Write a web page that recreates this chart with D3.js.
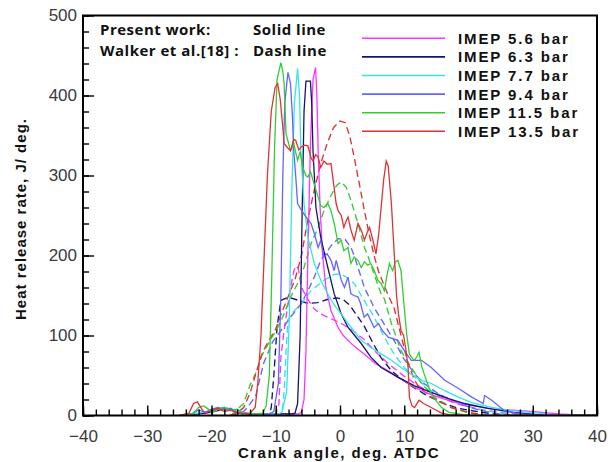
<!DOCTYPE html>
<html>
<head>
<meta charset="utf-8">
<script src="https://cdn.jsdelivr.net/npm/d3@7/dist/d3.min.js"></script>
<style>
  html, body { margin: 0; padding: 0; background: #fff; }
  svg { display: block; }
</style>
</head>
<body>
<svg id="chart" width="615" height="462"></svg>
<script>
// ---------------- DATA ----------------
const seriesLabels = ["IMEP 5.6 bar", "IMEP 6.3 bar", "IMEP 7.7 bar", "IMEP 9.4 bar", "IMEP 11.5 bar", "IMEP 13.5 bar"];
const seriesColors = ["#ff33ff", "#14146e", "#33e6e6", "#6464ff", "#33cc33", "#dd3333"];

const xTickValues = [-40, -30, -20, -10, 0, 10, 20, 30, 40];
const yTickValues = [0, 100, 200, 300, 400, 500];

const noteLines = [["Present work:", "Solid line"], ["Walker et al.[18] :", "Dash line"]];
const xTitle = "Crank angle, deg. ATDC";
const yTitle = "Heat release rate, J/ deg.";

// Present work (solid lines): [crank angle, heat release rate]
const present56 = [[-25,0],[-20,4],[-19,8],[-18,10],[-17,8],[-16,5],[-14,2],[-6.5,2],[-6,4],[-5.6,20],[-5.3,80],[-5,200],[-4.6,340],[-4.2,420],[-3.8,435],[-3.6,400],[-3.4,331],[-3.1,260],[-2.7,200],[-2.2,160],[-1.4,131],[-0.3,110],[0.5,100],[2,88],[3.75,77],[5.5,65],[7.5,56],[9,48],[11.6,35],[14.2,26],[16.9,19],[20,13],[24,8],[29.8,5],[34,2],[38,0.5],[40,0]];
const present63 = [[-25,0],[-21,3],[-19,6],[-18,9],[-17,7],[-16,4],[-14,2],[-7.5,2],[-7,3],[-6.6,15],[-6.2,100],[-5.9,250],[-5.6,380],[-5.3,418],[-4.6,418],[-4.4,390],[-4.2,331],[-4,300],[-3.75,260],[-3,223],[-1.9,185],[-0.9,152],[0.2,127],[1.25,110],[2.8,95],[3.3,90],[4.8,73],[6.4,60],[9,48],[11.6,37],[14.2,29],[16.9,21],[19.4,15],[23,9],[27,4],[32,0],[40,0]];
const present77 = [[-25,0],[-22,3],[-20,6],[-19,9],[-18,10],[-17,8],[-16,5],[-14,2],[-9.5,2],[-9,5],[-8.3,30],[-7.9,120],[-7.5,280],[-7.1,390],[-6.6,434],[-6.3,400],[-6.1,331],[-5.8,290],[-5.6,265],[-5,223],[-4,190],[-3,169],[-1.9,152],[-0.9,138],[0.2,127],[1.25,115],[2.2,105],[3.3,94],[4.8,85],[6.4,77],[8,69],[9.5,60],[11,52],[12.7,44],[14.2,40],[16.3,31],[18.4,23],[20.5,16],[23.6,10],[26.7,6],[29.8,4],[33,1],[36,0],[40,0]];
const present94 = [[-25,0],[-23,2],[-22,7],[-21,4],[-20,8],[-19,10],[-18,7],[-17,9],[-16,4],[-14,2],[-11,2],[-10.3,5],[-9.6,40],[-9.2,150],[-8.9,300],[-8.6,390],[-8.1,429],[-7.7,415],[-7.4,373],[-7.2,331],[-6.9,300],[-6.6,265],[-6.1,258],[-5.6,252],[-5,245],[-4.5,240],[-3.9,225],[-3.4,210],[-3,219],[-2.5,198],[-2,202],[-1.4,194],[-0.9,181],[-0.6,194],[-0.3,185],[0.2,169],[0.7,160],[1.25,173],[1.7,152],[2.2,150],[2.8,148],[3.2,140],[3.75,123],[4.3,127],[5.3,110],[6,115],[6.6,106],[7.5,98],[9,94],[10,81],[11.1,69],[12.7,69],[14.2,60],[16.3,44],[18.4,34],[20.5,23],[22.3,15],[22.5,25],[23.6,19],[25.6,6],[28,2],[31,0],[40,0]];
const present115 = [[-25,0],[-23,2],[-22,10],[-21.2,12],[-20.5,8],[-20,3],[-19,8],[-18,10],[-17,6],[-16,8],[-15,3],[-13,2],[-12,3],[-11.5,12],[-11,50],[-10.6,180],[-10.2,330],[-9.8,420],[-9.2,441],[-8.9,430],[-8.7,415],[-8.4,352],[-7.7,331],[-7.2,340],[-6.6,319],[-6.2,330],[-5.8,310],[-5.3,300],[-5,298],[-4.6,305],[-4.2,294],[-3.4,273],[-3,262],[-2.5,260],[-1.9,265],[-1.4,256],[-0.9,240],[-0.3,215],[0.2,219],[0.6,206],[1.25,210],[1.7,190],[2.2,198],[2.8,194],[3.3,185],[3.8,192],[4.3,188],[4.8,190],[5.3,182],[5.9,169],[6.4,165],[6.9,156],[7.3,175],[7.7,190],[8.2,181],[8.6,192],[9,194],[9.5,181],[10,135],[10.4,100],[10.8,77],[11.2,72],[11.6,69],[12,74],[12.3,79],[12.7,62],[13.1,52],[14.2,27],[15,18],[15.8,10],[17,4],[20,0],[40,0]];
const present135 = [[-25,0],[-23.5,3],[-22.8,15],[-22.2,17],[-21.5,8],[-21,3],[-20,6],[-19,9],[-18,5],[-17,7],[-16,3],[-15,2],[-14,3],[-13.2,10],[-12.8,40],[-12.3,100],[-11.8,200],[-11.3,300],[-10.7,380],[-10.1,410],[-9.7,415],[-9.3,395],[-8.9,360],[-8.7,340],[-8.2,335],[-7.7,331],[-7.2,345],[-6.9,344],[-6.4,332],[-6,336],[-5.5,338],[-5,337],[-4.5,322],[-4.2,318],[-3.8,326],[-3.4,323],[-3,310],[-2.5,318],[-2,314],[-1.4,315],[-1,290],[-0.6,265],[-0.3,256],[0.2,250],[0.6,235],[1,244],[1.25,248],[1.7,232],[2.2,219],[2.8,240],[3.3,232],[3.8,219],[4.2,228],[4.6,235],[5.1,220],[5.6,202],[6,225],[6.4,260],[6.8,295],[7.2,318],[7.5,312],[8,265],[8.5,194],[8.8,150],[9.1,127],[9.5,106],[9.9,100],[10.3,80],[10.6,60],[10.8,23],[11.2,12],[11.6,10],[12.3,19],[13,15],[14.2,10],[15.8,3],[17,1],[20,0],[40,0]];

// Walker et al. [18] (dashed lines)
const walker56 = [[-17,0],[-10,0],[-9.5,15],[-9.2,73],[-8.8,100],[-8.4,123],[-7.7,160],[-7.2,180],[-6.9,187],[-6.5,184],[-6,160],[-5,145],[-4,133],[-3,127],[-1.4,121],[0.2,115],[1.7,108],[3.75,95],[5.5,80],[7.5,65],[9.5,52],[12,38],[15,25],[18,15],[22,7],[26,3],[30,0],[40,0]];
const walker63 = [[-17,0],[-11,0],[-10.7,10],[-10.3,50],[-9.8,110],[-9.2,144],[-8,148],[-6.5,144],[-5,140],[-3.5,141],[-2,145],[-0.5,147],[0.5,145],[1.5,138],[2.8,123],[3.75,112],[5.3,88],[6.4,72],[8,56],[9.5,46],[11.1,37],[13.1,27],[15.8,16],[18.4,9],[22,4],[26,0],[40,0]];
const walker77 = [[-17,0],[-9.5,0],[-9,5],[-8.7,30],[-8.4,80],[-8.1,120],[-7,132],[-6,140],[-4.5,156],[-2.5,169],[-1,176],[0,177],[0.8,174],[2.2,165],[3.75,144],[5.3,123],[6.9,98],[8.4,77],[10,60],[12.2,44],[14.2,31],[17.3,19],[20.5,10],[24,4],[28,0],[40,0]];
const walker94 = [[-17,0],[-15,5],[-14.4,10],[-13.1,25],[-11.9,65],[-10.5,92],[-9.2,106],[-7.7,123],[-6,140],[-5,156],[-4,173],[-3,194],[-1.4,212],[-0.3,221],[0.8,220],[1.7,210],[2.2,200],[3.8,160],[5.3,135],[6.9,114],[8.4,94],[10,70],[11.6,52],[13.1,40],[15.3,27],[18.4,15],[22,6],[26,0],[40,0]];
const walker115 = [[-17,0],[-15,15],[-14,38],[-13,55],[-12.3,73],[-11,92],[-9.7,110],[-8.7,127],[-7.7,148],[-6.6,165],[-5.6,185],[-4.5,215],[-3.4,235],[-2.5,256],[-1.4,275],[-0.5,288],[0.2,292],[1,285],[1.7,269],[2.8,240],[3.8,210],[4.4,198],[5.3,177],[6.4,152],[6.9,146],[8,115],[9.5,81],[11.1,60],[12.7,40],[14.7,23],[17.3,10],[20,3],[22,0],[40,0]];
const walker135 = [[-17,0],[-16,3],[-15,10],[-14,28],[-13,55],[-12,80],[-11,95],[-10,108],[-9,130],[-8,150],[-7,170],[-6,200],[-5,245],[-4,282],[-3,315],[-2,340],[-1,360],[0,368],[0.8,366],[1.5,350],[2.2,323],[3,290],[3.8,256],[4.5,228],[5.3,200],[6,180],[6.9,162],[7.5,150],[8.4,135],[9.5,100],[10.6,65],[11.5,46],[12.2,36],[14.2,23],[17.3,10],[20,4],[23,0],[40,0]];

const presentSeries = [present56, present63, present77, present94, present115, present135];
const walkerSeries = [walker56, walker63, walker77, walker94, walker115, walker135];

// ---------------- CHART ----------------
const svg = d3.select("#chart");
const pLeft = 83, pRight = 597, pTop = 15.5, pBottom = 415.5;

const x = d3.scaleLinear().domain([-40, 40]).range([pLeft, pRight]);
const y = d3.scaleLinear().domain([0, 500]).range([pBottom, pTop]);

svg.append("defs").append("clipPath").attr("id", "plotclip")
  .append("rect").attr("x", pLeft).attr("y", pTop).attr("width", pRight - pLeft).attr("height", pBottom - pTop);

const line = d3.line().x(d => x(d[0])).y(d => y(d[1]));

const plot = svg.append("g").attr("clip-path", "url(#plotclip)");

walkerSeries.forEach((s, i) => {
  plot.append("path").datum(s)
    .attr("d", line)
    .attr("fill", "none")
    .attr("stroke", seriesColors[i])
    .attr("stroke-width", 1.35)
    .attr("stroke-dasharray", "7,4");
});
presentSeries.forEach((s, i) => {
  plot.append("path").datum(s)
    .attr("d", line)
    .attr("fill", "none")
    .attr("stroke", seriesColors[i])
    .attr("stroke-width", 1.3);
});

// Axes (ticks pointing inward)
const xMinor = d3.range(-40, 40.1, 2);
const yMinor = d3.range(0, 500.1, 20);

const xAxisMinor = d3.axisBottom(x).tickValues(xMinor).tickSize(-6).tickFormat("");
const xAxisMajor = d3.axisBottom(x).tickValues(xTickValues).tickSize(-10).tickPadding(14).tickFormat(d3.format("d"));
const yAxisMinor = d3.axisLeft(y).tickValues(yMinor).tickSize(-6).tickFormat("");
const yAxisMajor = d3.axisLeft(y).tickValues(yTickValues).tickSize(-11).tickPadding(6).tickFormat(d3.format("d"));

function styleAxis(g) {
  g.select(".domain").remove();
  g.selectAll(".tick line").attr("stroke", "#000").attr("stroke-width", 1.4);
  g.selectAll(".tick text")
    .attr("fill", "#3a3a3a")
    .style("font-family", "'Liberation Sans', Arial, sans-serif")
    .style("font-size", "17px");
}

svg.append("g").attr("transform", `translate(0,${pBottom})`).call(xAxisMinor).call(styleAxis);
svg.append("g").attr("transform", `translate(0,${pBottom})`).call(xAxisMajor).call(styleAxis);
svg.append("g").attr("transform", `translate(${pLeft},0)`).call(yAxisMinor).call(styleAxis);
svg.append("g").attr("transform", `translate(${pLeft},0)`).call(yAxisMajor).call(styleAxis);

// Frame
svg.append("rect")
  .attr("x", pLeft).attr("y", pTop)
  .attr("width", pRight - pLeft).attr("height", pBottom - pTop)
  .attr("fill", "none").attr("stroke", "#000").attr("stroke-width", 2);

// Axis titles
svg.append("text")
  .attr("x", 339).attr("y", 458)
  .attr("text-anchor", "middle")
  .style("font-family", "'Liberation Sans', Arial, sans-serif")
  .style("font-size", "15px").style("font-weight", "bold")
  .style("letter-spacing", "1.5px")
  .attr("fill", "#111")
  .text(xTitle);

svg.append("text")
  .attr("transform", "translate(26,219) rotate(-90)")
  .attr("text-anchor", "middle")
  .style("font-family", "'Liberation Sans', Arial, sans-serif")
  .style("font-size", "15px").style("font-weight", "bold")
  .style("letter-spacing", "1px")
  .attr("fill", "#111")
  .text(yTitle);

// Notes
const noteFont = "'Open Sans', 'Liberation Sans', sans-serif";
noteLines.forEach((pair, i) => {
  const yy = 34.5 + i * 21;
  svg.append("text").attr("x", 100).attr("y", yy)
    .style("font-family", noteFont).style("font-size", "15px").style("font-weight", "bold")
    .style("letter-spacing", "0.5px")
    .attr("fill", "#111").text(pair[0]);
  svg.append("text").attr("x", 253).attr("y", yy)
    .style("font-family", noteFont).style("font-size", "15px").style("font-weight", "bold")
    .style("letter-spacing", "0.5px")
    .attr("fill", "#111").text(pair[1]);
});

// Legend
const legend = svg.append("g");
seriesLabels.forEach((lab, i) => {
  const ly = 38.3 + i * 18.6;
  legend.append("line")
    .attr("x1", 362).attr("x2", 445).attr("y1", ly).attr("y2", ly)
    .attr("stroke", seriesColors[i]).attr("stroke-width", 1.6);
  legend.append("text")
    .attr("x", 458).attr("y", ly + 5.5)
    .style("font-family", "'Liberation Sans', Arial, sans-serif")
    .style("font-size", "15px").style("font-weight", "bold")
    .style("letter-spacing", "1.9px")
    .attr("fill", "#111")
    .text(lab);
});
</script>
</body>
</html>
